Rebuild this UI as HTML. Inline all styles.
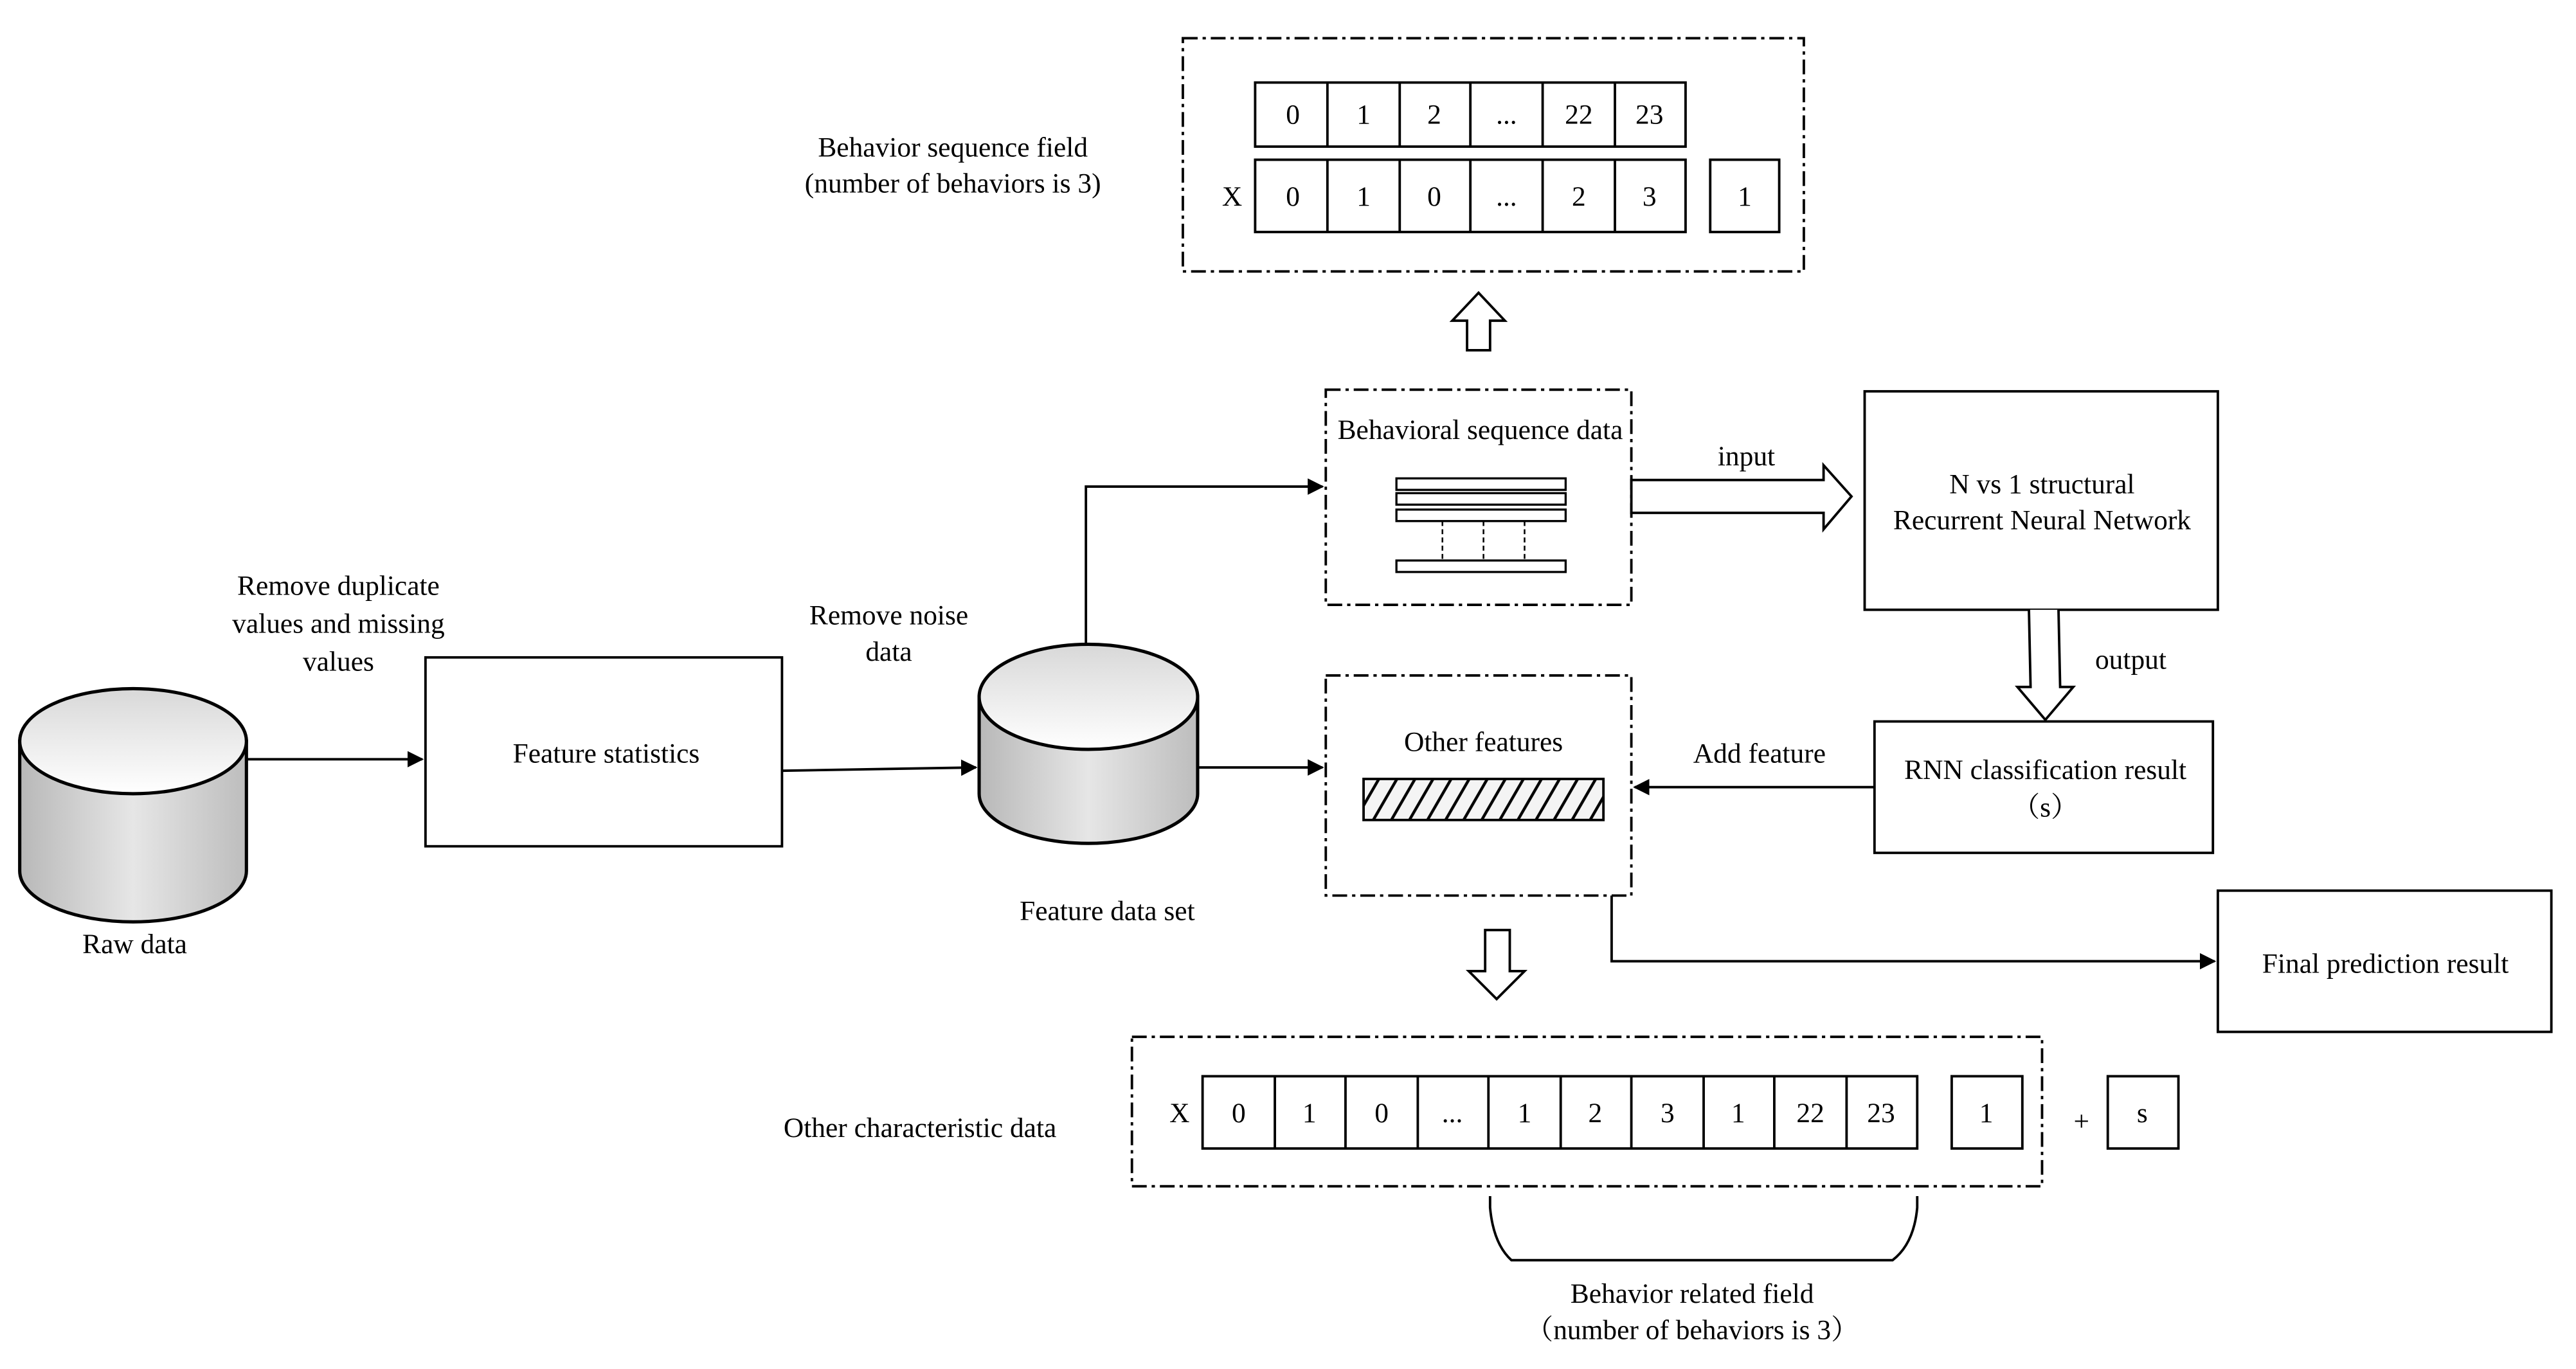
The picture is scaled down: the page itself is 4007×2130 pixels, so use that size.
<!DOCTYPE html>
<html><head><meta charset="utf-8"><style>
html,body{margin:0;padding:0;background:#fff;}
svg{display:block;}
text{font-family:"Liberation Serif","Noto Serif CJK SC",serif;font-size:17px;fill:#000;}
</style></head><body>
<svg width="4007" height="2130" viewBox="0 0 1568 833" xmlns="http://www.w3.org/2000/svg">
<defs>
<marker id="ar" markerWidth="10" markerHeight="10" refX="9" refY="5" orient="auto" markerUnits="userSpaceOnUse">
<path d="M0,0 L10,5 L0,10 z" fill="#000"/></marker>
<linearGradient id="cg" x1="0" y1="0" x2="1" y2="0">
<stop offset="0" stop-color="#b8b8b8"/><stop offset="0.5" stop-color="#e6e6e6"/><stop offset="1" stop-color="#bdbdbd"/></linearGradient>
<linearGradient id="tg" x1="0" y1="0" x2="0" y2="1">
<stop offset="0" stop-color="#d8d8d8"/><stop offset="1" stop-color="#ffffff"/></linearGradient>
<pattern id="hatch" width="11" height="25" patternUnits="userSpaceOnUse" patternTransform="skewX(-30)">
<rect width="11" height="25" fill="#f4f4f4"/><line x1="2" y1="0" x2="2" y2="25" stroke="#000" stroke-width="2"/></pattern>
</defs>
<g fill="none" stroke="#000" stroke-width="1.5">
<rect x="720" y="23" width="378" height="142" stroke-dasharray="9 3 2 3"/>
<rect x="764" y="50" width="262" height="39"/>
<path d="M808,50V89M852,50V89M895,50V89M939,50V89M983,50V89"/>
<rect x="764" y="97" width="262" height="44"/>
<path d="M808,97V141M852,97V141M895,97V141M939,97V141M983,97V141"/>
<rect x="1041" y="97" width="42" height="44"/>
<path d="M893,213V195H884L900,178L916,195H907V213Z" fill="#fff"/>
<rect x="807" y="237" width="186" height="131" stroke-dasharray="9 3 2 3"/>
<rect x="850" y="291" width="103" height="7" stroke-width="1.3"/>
<rect x="850" y="300" width="103" height="7" stroke-width="1.3"/>
<rect x="850" y="310" width="103" height="7" stroke-width="1.3"/>
<rect x="850" y="341" width="103" height="7" stroke-width="1.3"/>
<path d="M878,317V341M903,317V341M928,317V341" stroke-dasharray="3 2" stroke-width="1"/>
<path d="M993,292H1110V283L1127,302L1110,322V312H993Z" fill="#fff"/>
<rect x="1135" y="238" width="215" height="133"/>
<path d="M1235,371L1236,418H1228L1245,438L1262,418H1254L1253,371" fill="#fff"/>
<rect x="1141" y="439" width="206" height="80"/>
<line x1="1141" y1="479" x2="995" y2="479" marker-end="url(#ar)"/>
<rect x="807" y="411" width="186" height="134" stroke-dasharray="9 3 2 3"/>
<rect x="830" y="474" width="146" height="25" fill="url(#hatch)"/>
<path d="M981,545V585H1348" marker-end="url(#ar)"/>
<rect x="1350" y="542" width="203" height="86"/>
<path d="M904,566V591H894L911,608L928,591H919V566Z" fill="#fff"/>
<rect x="689" y="631" width="554" height="91" stroke-dasharray="9 3 2 3"/>
<rect x="732" y="655" width="435" height="44"/>
<path d="M776,655V699M819,655V699M863,655V699M906,655V699M950,655V699M993,655V699M1037,655V699M1080,655V699M1124,655V699"/>
<rect x="1188" y="655" width="43" height="44"/>
<rect x="1283" y="655" width="43" height="44"/>
<path d="M907,728V735Q909,757 920,767H1152Q1165,757 1167,735V728"/>
<path d="M12,451V530A69,31 0 0 0 150,530V451Z" fill="url(#cg)" stroke-width="2"/>
<ellipse cx="81" cy="451" rx="69" ry="32" fill="url(#tg)" stroke-width="2"/>
<line x1="150" y1="462" x2="257" y2="462" marker-end="url(#ar)"/>
<rect x="259" y="400" width="217" height="115"/>
<line x1="476" y1="469" x2="594" y2="467" marker-end="url(#ar)"/>
<path d="M596,424V483A66,30 0 0 0 729,483V424Z" fill="url(#cg)" stroke-width="2"/>
<ellipse cx="662.5" cy="424" rx="66.5" ry="32" fill="url(#tg)" stroke-width="2"/>
<path d="M661,392V296H805" marker-end="url(#ar)"/>
<line x1="729" y1="467" x2="805" y2="467" marker-end="url(#ar)"/>
</g>
<g text-anchor="middle">
<text x="580" y="95">Behavior sequence field</text>
<text x="580" y="117">(number of behaviors is 3)</text>
<text x="787" y="75">0</text><text x="830" y="75">1</text><text x="873" y="75">2</text><text x="917" y="75" font-size="10">...</text><text x="961" y="75">22</text><text x="1004" y="75">23</text>
<text x="750" y="125">X</text>
<text x="787" y="125">0</text><text x="830" y="125">1</text><text x="873" y="125">0</text><text x="917" y="125" font-size="10">...</text><text x="961" y="125">2</text><text x="1004" y="125">3</text><text x="1062" y="125">1</text>
<text x="901" y="267">Behavioral sequence data</text>
<text x="1063" y="283">input</text>
<text x="1243" y="300">N vs 1 structural</text>
<text x="1243" y="322">Recurrent Neural Network</text>
<text x="1297" y="407">output</text>
<text x="1245" y="474">RNN classification result</text>
<text x="1245" y="497">（s）</text>
<text x="1071" y="464">Add feature</text>
<text x="903" y="457">Other features</text>
<text x="1452" y="592">Final prediction result</text>
<text x="560" y="692">Other characteristic data</text>
<text x="718" y="683">X</text>
<text x="754" y="683">0</text><text x="797" y="683">1</text><text x="841" y="683">0</text><text x="884" y="683" font-size="10">...</text><text x="928" y="683">1</text><text x="971" y="683">2</text><text x="1015" y="683">3</text><text x="1058" y="683">1</text><text x="1102" y="683">22</text><text x="1145" y="683">23</text>
<text x="1209" y="683">1</text><text x="1267" y="688" font-size="20">+</text><text x="1304" y="683">s</text>
<text x="1030" y="793">Behavior related field</text>
<text x="1030" y="815">（number of behaviors is 3）</text>
<text x="82" y="580">Raw data</text>
<text x="369" y="464">Feature statistics</text>
<text x="206" y="362">Remove duplicate</text>
<text x="206" y="385">values and missing</text>
<text x="206" y="408">values</text>
<text x="541" y="380">Remove noise</text>
<text x="541" y="402">data</text>
<text x="674" y="560">Feature data set</text>
</g>
</svg>
</body></html>
